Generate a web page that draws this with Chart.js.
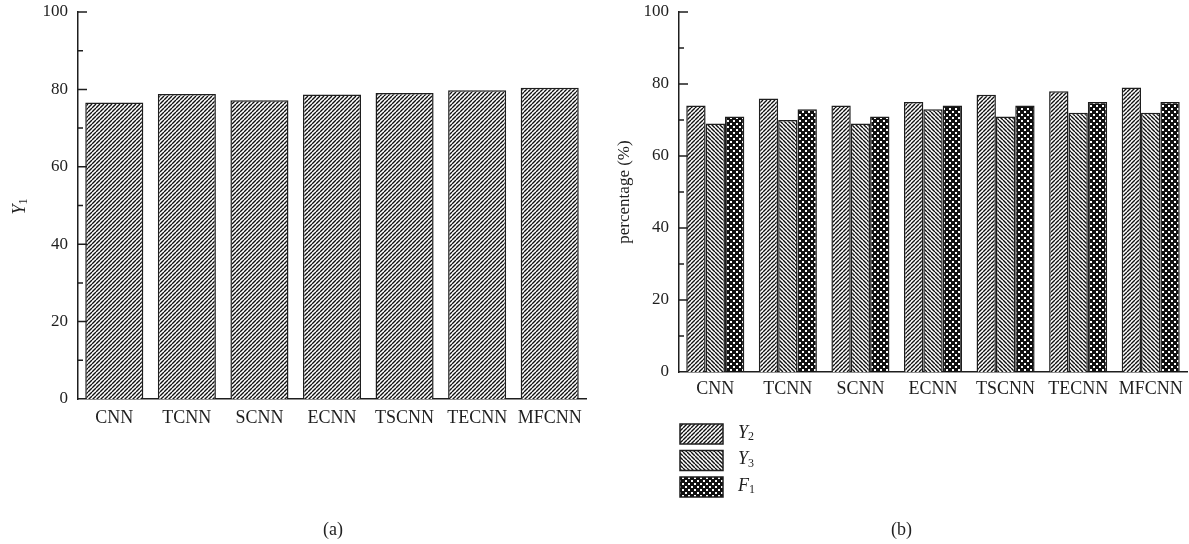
<!DOCTYPE html>
<html>
<head>
<meta charset="utf-8">
<script src="https://cdn.jsdelivr.net/npm/chart.js@4.4.1/dist/chart.umd.min.js"></script>
<style>
  body { margin: 0; background: #fff; width: 1189px; height: 544px; position: relative; overflow: hidden; font-family: "Liberation Serif", serif; }
  .box { position: absolute; top: 0; height: 544px; }
  #boxA { left: 0; width: 595px; }
  #boxB { left: 595px; width: 594px; }
  .cap { position: absolute; top: 520px; font-size: 18px; line-height: 18px; color: #222; }
</style>
</head>
<body>
<div class="box" id="boxA"><canvas id="chartA" width="595" height="544"></canvas></div>
<div class="box" id="boxB"><canvas id="chartB" width="594" height="544"></canvas></div>
<div class="cap" style="left:323px">(a)</div>
<div class="cap" style="left:891px">(b)</div>
<script>
const categories = ['CNN', 'TCNN', 'SCNN', 'ECNN', 'TSCNN', 'TECNN', 'MFCNN'];
const y1Values = [76.6, 78.8, 77.2, 78.7, 79.1, 79.8, 80.4];
const y2Values = [74, 76, 74, 75, 77, 78, 79];
const y3Values = [69, 70, 69, 73, 71, 72, 72];
const f1Values = [71, 73, 71, 74, 74, 75, 75];
const yMajorTicks = [0, 20, 40, 60, 80, 100];
const yMinorTicks = [10, 30, 50, 70, 90];
const legendLabels = [['Y', '2'], ['Y', '3'], ['F', '1']];

const INK = '#1e1e1e';
const SERIF = '"Liberation Serif", serif';

Chart.defaults.font.family = SERIF;
Chart.defaults.font.size = 17;
Chart.defaults.color = INK;

// hatch fills
const tmp = document.createElement('canvas').getContext('2d');
function tile(size, paint) {
    const c = document.createElement('canvas');
    c.width = c.height = size;
    paint(c.getContext('2d'), size);
    return tmp.createPattern(c, 'repeat');
}
function stripes(dir) {
    return tile(4, (g, s) => {
        g.fillStyle = '#fff';
        g.fillRect(0, 0, s, s);
        g.strokeStyle = '#111';
        g.lineWidth = 1.4;
        g.beginPath();
        for (let k = -1; k <= 1; k++) {
            if (dir > 0) { g.moveTo(k * s, s); g.lineTo(k * s + s, 0); }
            else { g.moveTo(k * s, 0); g.lineTo(k * s + s, s); }
        }
        g.stroke();
    });
}
function dots() {
    return tile(6, (g, s) => {
        g.fillStyle = '#111';
        g.fillRect(0, 0, s, s);
        g.fillStyle = '#fff';
        g.fillRect(0, 0, 2, 2);
        g.fillRect(3, 3, 2, 2);
    });
}

// ticks point into the plot, minor ones shorter
const innerTicks = {
    id: 'innerTicks',
    afterDraw(chart) {
        const y = chart.scales.y, ctx = chart.ctx, x0 = chart.chartArea.left;
        ctx.save();
        ctx.strokeStyle = INK;
        ctx.lineWidth = 1.5;
        ctx.beginPath();
        yMajorTicks.forEach(v => { if (v > 0) { const p = y.getPixelForValue(v); ctx.moveTo(x0, p); ctx.lineTo(x0 + 9, p); } });
        yMinorTicks.forEach(v => { const p = y.getPixelForValue(v); ctx.moveTo(x0, p); ctx.lineTo(x0 + 5, p); });
        ctx.stroke();
        ctx.restore();
    }
};

function subText(ctx, x, y, main, sub, size) {
    ctx.font = 'italic ' + size + 'px ' + SERIF;
    ctx.fillText(main, x, y);
    const w = ctx.measureText(main).width;
    ctx.font = Math.round(size * 0.65) + 'px ' + SERIF;
    ctx.fillText(sub, x + w, y + 4);
}

const y1Title = {
    id: 'y1Title',
    afterDraw(chart) {
        const a = chart.chartArea, ctx = chart.ctx;
        ctx.save();
        ctx.translate(20, (a.top + a.bottom) / 2);
        ctx.rotate(-Math.PI / 2);
        ctx.fillStyle = INK;
        ctx.textBaseline = 'middle';
        ctx.textAlign = 'left';
        subText(ctx, -9, 0, 'Y', '1', 18);
        ctx.restore();
    }
};

const legendB = {
    id: 'legendB',
    afterDraw(chart) {
        const a = chart.chartArea, ctx = chart.ctx;
        ctx.save();
        chart.data.datasets.forEach((ds, i) => {
            const top = a.bottom + 52 + i * 26.5, left = a.left + 1;
            ctx.fillStyle = ds.backgroundColor;
            ctx.fillRect(left, top, 43, 20);
            ctx.strokeStyle = INK;
            ctx.lineWidth = 1.5;
            ctx.strokeRect(left, top, 43, 20);
            ctx.fillStyle = INK;
            ctx.textBaseline = 'middle';
            ctx.textAlign = 'left';
            subText(ctx, left + 58, top + 9, legendLabels[i][0], legendLabels[i][1], 18);
        });
        ctx.restore();
    }
};

function scales(xHeight, yWidth, xPad, title) {
    return {
        x: {
            grid: { display: false, drawTicks: false },
            border: { display: true, color: INK, width: 1.5 },
            ticks: { padding: xPad, color: INK, font: { size: 18 } },
            afterFit: s => { s.height = xHeight; }
        },
        y: {
            min: 0,
            max: 100,
            afterBuildTicks: s => { s.ticks = yMajorTicks.map(v => ({ value: v })); },
            grid: { display: false, drawTicks: false },
            border: { display: true, color: INK, width: 1.5 },
            ticks: { padding: 10, color: INK },
            title: title,
            afterFit: s => { s.width = yWidth; s.paddingTop = 0; s.paddingBottom = 0; }
        }
    };
}

const common = {
    responsive: false,
    animation: false,
    plugins: { legend: { display: false }, tooltip: { enabled: false } }
};

new Chart(document.getElementById('chartA'), {
    type: 'bar',
    data: {
        labels: categories,
        datasets: [{
            label: 'Y1',
            data: y1Values,
            backgroundColor: stripes(1),
            borderColor: INK,
            borderWidth: 1.5,
            categoryPercentage: 0.8,
            barPercentage: 1
        }]
    },
    options: Object.assign({}, common, {
        layout: { padding: { top: 12, right: 9, left: 0, bottom: 0 } },
        scales: scales(145, 78, 8, { display: false })
    }),
    plugins: [innerTicks, y1Title]
});

new Chart(document.getElementById('chartB'), {
    type: 'bar',
    data: {
        labels: categories,
        datasets: [
            { label: 'Y2', data: y2Values, backgroundColor: stripes(1) },
            { label: 'Y3', data: y3Values, backgroundColor: stripes(-1) },
            { label: 'F1', data: f1Values, backgroundColor: dots() }
        ].map(d => Object.assign(d, { borderColor: INK, borderWidth: 1.5, categoryPercentage: 0.8, barPercentage: 1 }))
    },
    options: Object.assign({}, common, {
        layout: { padding: { top: 12, right: 2, left: 0, bottom: 0 } },
        scales: scales(172, 84, 6, { display: true, text: 'percentage (%)', color: INK, font: { size: 17 }, padding: { top: 19, bottom: 0 } })
    }),
    plugins: [innerTicks, legendB]
});
</script>
</body>
</html>
